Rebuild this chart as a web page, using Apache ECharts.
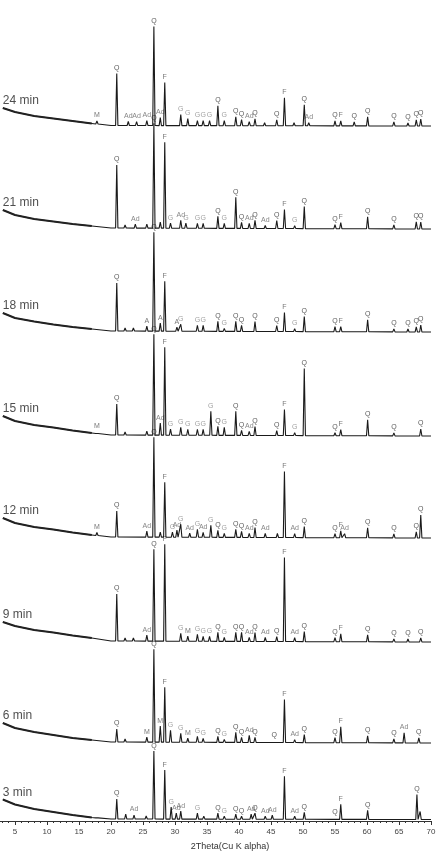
<!DOCTYPE html>
<html>
<head>
<meta charset="utf-8">
<script src="https://cdn.jsdelivr.net/npm/echarts@6/dist/echarts.min.js"></script>
<style>
  html, body { margin: 0; padding: 0; background: #fff; }
  #xrd { width: 442px; height: 857px; }
</style>
</head>
<body>
<div id="xrd"></div>
<script>
// trace names, top to bottom
var traceNames = ['24 min', '21 min', '18 min', '15 min', '12 min', '9 min', '6 min', '3 min'];
// flat baseline level of each trace (stacking offset)
var baselines = [695, 592, 489, 385, 283, 179, 78, 1.5];

// low-angle background, [2theta, height above baseline]
var bg24 = [[3.1, 18], [5, 14], [8, 10], [11, 7.5], [14, 5], [17, 2.5], [20, 0.5], [70, 0]];
var bg21 = [[3.1, 19], [5, 14], [8, 10], [11, 7.5], [14, 5], [17, 3], [20, 1], [70, 0]];
var bg18 = [[3.1, 19], [5, 14], [8, 10.5], [11, 7.5], [14, 5], [17, 3], [20, 1], [70, 0]];
var bg15 = [[3.1, 20], [5, 15], [8, 11], [11, 8.5], [14, 5.5], [17, 3], [20, 1], [70, 0]];
var bg12 = [[3.1, 20], [5, 15], [8, 11], [11, 8.5], [14, 5.5], [17, 3], [20, 1], [70, 0]];
var bg9 = [[3.1, 20], [5, 16], [8, 12], [11, 9.5], [14, 6.5], [17, 4], [20, 1], [70, 0]];
var bg6 = [[3.1, 20], [5, 15], [8, 11], [11, 8], [14, 5], [17, 3], [20, 1], [70, 0]];
var bg3 = [[3.1, 20], [5, 15], [8, 10.5], [11, 7.5], [14, 4.5], [17, 2], [20, 0.5], [70, 0]];

// peaks, [2theta, height, phase label]
var p24 = [[17.8, 3, 'M'], [20.9, 52, 'Q'], [22.7, 4, 'Ad'], [24.0, 4, 'Ad'], [25.6, 5, 'Ad'], [26.7, 99, 'Q'],
  [27.7, 8, 'Ad'], [28.4, 43, 'F'], [30.9, 11, 'G'], [32.0, 7, 'G'], [33.5, 5, 'G'], [34.4, 5, 'G'], [35.4, 5, 'G'],
  [36.7, 20, 'Q'], [37.7, 5, 'G'], [39.5, 9, 'Q'], [40.4, 6, 'Q'], [41.6, 4, 'Ad'], [42.5, 7, 'Q'], [44.0, 3, ''],
  [45.9, 6, 'Q'], [47.1, 28, 'F'], [48.6, 3, ''], [50.2, 21, 'Q'], [50.9, 3, 'Ad'], [55.0, 5, 'Q'], [55.9, 5, 'F'],
  [58.0, 4, 'Q'], [60.1, 9, 'Q'], [64.2, 4, 'Q'], [66.4, 3, 'Q'], [67.7, 6, 'Q'], [68.4, 7, 'Q']];
var p21 = [[20.9, 63, 'Q'], [22.2, 3, ''], [23.8, 4, 'Ad'], [25.6, 4, ''], [26.7, 105, 'Q'], [27.7, 6, ''],
  [28.4, 86, 'F'], [29.3, 5, 'G'], [30.9, 8, 'Ad'], [31.7, 5, 'G'], [33.5, 5, 'G'], [34.4, 5, 'G'], [36.7, 12, 'Q'],
  [37.7, 5, 'G'], [39.5, 31, 'Q'], [40.4, 6, 'Q'], [41.6, 5, 'Ad'], [42.5, 8, 'Q'], [44.1, 3, 'Ad'], [45.9, 8, 'Q'],
  [47.1, 19, 'F'], [48.7, 3, 'G'], [50.2, 22, 'Q'], [55.0, 4, 'Q'], [55.9, 6, 'F'], [60.1, 12, 'Q'], [64.2, 4, 'Q'],
  [67.7, 7, 'Q'], [68.4, 7, 'Q']];
var p18 = [[20.9, 48, 'Q'], [22.2, 3, ''], [23.5, 3, ''], [25.6, 5, 'A'], [26.7, 99, 'Q'], [27.7, 8, 'A'],
  [28.4, 50, 'F'], [30.3, 4, 'A'], [30.9, 7, 'G'], [33.5, 6, 'G'], [34.4, 6, 'G'], [36.7, 10, 'Q'], [37.7, 3, 'G'],
  [39.5, 10, 'Q'], [40.4, 6, 'Q'], [42.5, 10, 'Q'], [45.9, 6, 'Q'], [47.1, 19, 'F'], [48.7, 3, 'G'], [50.2, 15, 'Q'],
  [55.0, 5, 'Q'], [55.9, 5, 'F'], [60.1, 12, 'Q'], [64.2, 3, 'Q'], [66.4, 3, 'Q'], [67.7, 5, 'Q'], [68.4, 7, 'Q']];
var p15 = [[17.8, 2, 'M'], [20.9, 31, 'Q'], [22.2, 3, ''], [25.6, 4, ''], [26.7, 101, 'Q'], [27.7, 12, 'Ad'],
  [28.4, 88, 'F'], [29.3, 6, 'G'], [30.9, 8, 'G'], [32.0, 6, 'G'], [33.5, 6, 'G'], [34.4, 6, 'G'], [35.6, 24, 'G'],
  [36.7, 9, 'Q'], [37.7, 8, 'G'], [39.5, 24, 'Q'], [40.4, 5, 'Q'], [41.6, 4, 'Ad'], [42.5, 9, 'Q'], [45.9, 5, 'Q'],
  [47.1, 26, 'F'], [48.7, 3, 'G'], [50.2, 67, 'Q'], [55.0, 3, 'Q'], [55.9, 6, 'F'], [60.1, 16, 'Q'], [64.2, 3, 'Q'],
  [68.4, 7, 'Q']];
var p12 = [[17.8, 3, 'M'], [20.9, 26, 'Q'], [25.6, 6, 'Ad'], [26.7, 100, 'Q'], [27.7, 5, ''], [28.4, 55, 'F'],
  [29.6, 5, 'G'], [30.3, 7, 'Ad'], [30.9, 13, 'G'], [32.3, 4, 'Ad'], [33.5, 8, 'G'], [34.4, 5, 'Ad'], [35.6, 12, 'G'],
  [36.7, 7, 'Q'], [37.7, 4, 'G'], [39.5, 8, 'Q'], [40.4, 6, 'Q'], [41.6, 4, 'Ad'], [42.5, 10, 'Q'], [44.1, 4, 'Ad'],
  [46.0, 4, ''], [47.1, 66, 'F'], [48.7, 4, 'Ad'], [50.2, 11, 'Q'], [55.0, 4, 'Q'], [55.9, 7, 'F'], [56.5, 4, 'Ad'],
  [60.1, 10, 'Q'], [64.2, 4, 'Q'], [67.7, 6, 'Q'], [68.4, 23, 'Q']];
var p9 = [[20.9, 47, 'Q'], [22.2, 3, ''], [23.5, 3, ''], [25.6, 6, 'Ad'], [26.7, 92, 'Q'], [28.4, 97, 'F'],
  [30.9, 8, 'G'], [32.0, 5, 'M'], [33.5, 7, 'G'], [34.4, 5, 'G'], [35.4, 5, 'G'], [36.7, 9, 'Q'], [37.7, 4, 'G'],
  [39.5, 9, 'Q'], [40.4, 9, 'Q'], [41.6, 4, 'Ad'], [42.5, 9, 'Q'], [44.1, 4, 'Ad'], [45.9, 5, 'Q'], [47.1, 84, 'F'],
  [48.7, 4, 'Ad'], [50.2, 10, 'Q'], [55.0, 4, 'Q'], [55.9, 8, 'F'], [60.1, 7, 'Q'], [64.2, 3, 'Q'], [66.4, 3, 'Q'],
  [68.4, 4, 'Q']];
var p6 = [[20.9, 13, 'Q'], [22.2, 3, ''], [25.6, 5, 'M'], [26.7, 93, 'Q'], [27.7, 16, 'M'], [28.4, 55, 'F'],
  [29.3, 12, 'G'], [30.9, 9, 'G'], [32.0, 4, 'M'], [33.5, 6, 'G'], [34.4, 4, 'G'], [36.7, 6, 'Q'], [37.7, 3, 'G'],
  [39.5, 10, 'Q'], [40.4, 5, 'Q'], [41.6, 7, 'Ad'], [42.5, 5, 'Q'], [45.5, 2, 'Q'], [47.1, 43, 'F'], [48.7, 3, 'Ad'],
  [50.2, 8, 'Q'], [55.0, 5, 'Q'], [55.9, 16, 'F'], [60.1, 7, 'Q'], [64.2, 4, 'Q'], [65.8, 10, 'Ad'], [68.1, 5, 'Q']];
var p3 = [[17.8, 2, ''], [20.9, 20, 'Q'], [22.3, 5, ''], [23.6, 4, 'Ad'], [25.5, 3, ''], [26.7, 68, 'Q'],
  [28.4, 49, 'F'], [29.4, 12, 'G'], [30.2, 6, 'Ad'], [30.9, 8, 'Ad'], [33.5, 6, 'G'], [34.5, 3, ''], [36.7, 6, 'Q'],
  [37.7, 3, 'G'], [39.5, 5, 'Q'], [40.4, 3, 'Q'], [41.9, 5, 'Ad'], [42.5, 6, 'Q'], [44.1, 3, 'Ad'], [45.2, 4, 'Ad'],
  [47.1, 43, 'F'], [48.7, 3, 'Ad'], [50.2, 7, 'Q'], [55.0, 2, 'Q'], [55.9, 15, 'F'], [60.1, 9, 'Q'], [67.8, 25, 'Q'],
  [68.3, 8, '']];

var backgrounds = [bg24, bg21, bg18, bg15, bg12, bg9, bg6, bg3];
var peakSets = [p24, p21, p18, p15, p12, p9, p6, p3];

var labelColors = { Q: '#333', F: '#555', G: '#8a8a8a', Ad: '#666', M: '#555', A: '#555' };
var halfWidth = 0.18;

function bgAt(bg, x) {
    for (var i = 1; i < bg.length; i++) {
        if (x <= bg[i][0]) {
            var t = (x - bg[i - 1][0]) / (bg[i][0] - bg[i - 1][0]);
            return bg[i - 1][1] + t * (bg[i][1] - bg[i - 1][1]);
        }
    }
    return bg[bg.length - 1][1];
}

var series = [];
traceNames.forEach(function (name, k) {
    var bg = backgrounds[k], base = baselines[k];
    var pts = bg.map(function (p) { return [p[0], base + p[1]]; });
    var marks = [];
    peakSets[k].forEach(function (p) {
        var b = base + bgAt(bg, p[0]);
        pts.push([p[0] - halfWidth, b], [p[0], b + p[1]], [p[0] + halfWidth, b]);
        if (p[2]) {
            marks.push({ value: [p[0], b + p[1]], name: p[2], label: { color: labelColors[p[2]] || '#444' } });
        }
    });
    pts.sort(function (a, b) { return a[0] - b[0]; });

    series.push({
        type: 'line', name: name, data: pts, showSymbol: false, silent: true,
        lineStyle: { color: '#1a1a1a', width: 1.1 }
    });
    // the noisy low-angle hump reads as a thicker band
    series.push({
        type: 'line', data: bg.slice(0, -2).map(function (p) { return [p[0], base + p[1]]; }),
        showSymbol: false, silent: true, lineStyle: { color: '#222', width: 2 }
    });
    series.push({
        type: 'scatter', data: marks, symbolSize: 0, silent: true,
        label: { show: true, position: 'top', distance: 2, formatter: '{b}', fontSize: 7, fontFamily: 'Liberation Sans' }
    });
    // trace name at the start of each pattern
    series.push({
        type: 'scatter', symbolSize: 0, silent: true,
        data: [{ value: [bg[0][0], base + bg[0][1]], name: name }],
        label: { show: true, position: 'top', align: 'left', distance: 1, formatter: '{b}',
                 fontSize: 12, color: '#222', fontFamily: 'Liberation Sans' }
    });
});

var chart = echarts.init(document.getElementById('xrd'));
chart.setOption({
    animation: false,
    grid: { left: -17, right: 11, top: 0, bottom: 36, outerBoundsMode: 'none', containLabel: false },
    xAxis: {
        type: 'value', min: 0, max: 70, interval: 5,
        name: '2Theta(Cu K alpha)', nameLocation: 'middle', nameGap: 21,
        nameTextStyle: { fontSize: 9, color: '#333', fontFamily: 'Liberation Sans', padding: [0, 0, 0, 46] },
        axisLine: { lineStyle: { color: '#333', width: 1 } },
        axisTick: { length: 4, lineStyle: { color: '#333' } },
        minorTick: { show: true, splitNumber: 5, length: 2, lineStyle: { color: '#333' } },
        splitLine: { show: false },
        axisLabel: { fontSize: 8, color: '#444', margin: 7, fontFamily: 'Liberation Sans' }
    },
    yAxis: { type: 'value', min: 0, max: 821, show: false },
    series: series
});
</script>
</body>
</html>
